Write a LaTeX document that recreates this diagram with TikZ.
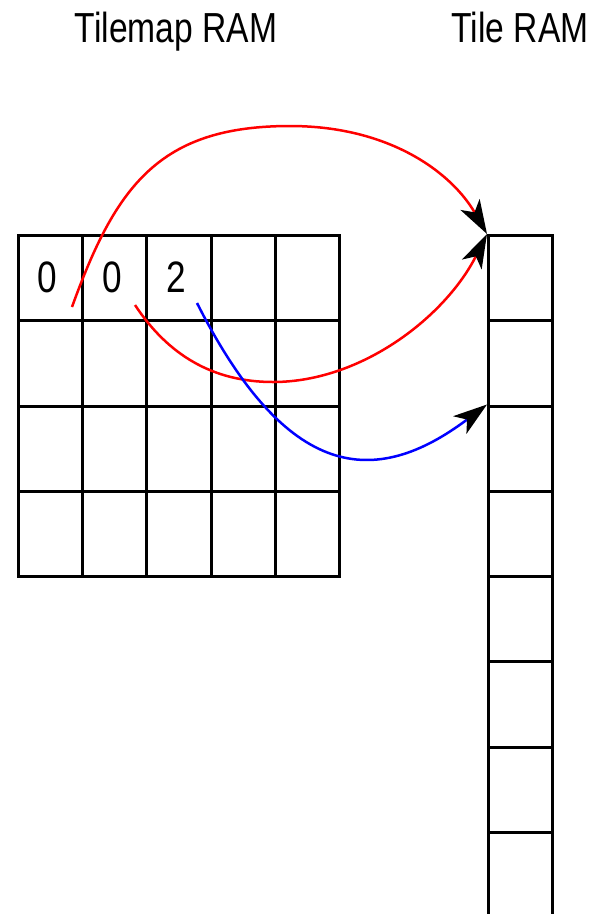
\documentclass[tikz,border=0pt]{standalone}
\usepackage{fontspec}
\newfontfamily\narrowsans[FakeStretch=0.8]{Liberation Sans}
\usetikzlibrary{arrows.meta}
\begin{document}
\begin{tikzpicture}[x=1pt,y=-1pt,
  cellbox/.style={draw=black,line width=3pt,minimum width=64.2pt,minimum height=85.25pt,inner sep=0pt,anchor=north west},
  title/.style={font=\narrowsans\fontsize{42}{46}\selectfont,anchor=base,inner sep=0pt},
  digit/.style={font=\narrowsans\fontsize{44}{48}\selectfont,anchor=base,inner sep=0pt},
  link/.style={line width=2.5pt,-{Stealth[length=34pt,width=22pt,inset=9pt,color=black]}},
]
\useasboundingbox (0,0) rectangle (596,914);
% titles
\node[title] (t1) at (176,42) {Tilemap RAM};
\node[title] (t2) at (520,42) {Tile RAM};
% tilemap grid
\foreach \r in {0,...,3}{
  \foreach \c in {0,...,4}{
    \node[cellbox] (m\r\c) at ({17+64.2*\c},{234+85.25*\r}) {};
  }
}
% tile RAM column
\foreach \r in {0,...,6}{
  \node[cellbox] (k\r) at (487,{234+85.25*\r}) {};
}
\node[cellbox,minimum height=95pt] (k7) at (487,{234+85.25*7}) {};
% digits
\node[digit] (d0) at (47,292) {0};
\node[digit] (d1) at (112,292) {0};
\node[digit] (d2) at (176,292) {2};
% start points
\coordinate (s0) at (72,307);
\coordinate (s1) at (135,305);
\coordinate (s2) at (197,303);
% connectors
\draw[link,red] (s0) .. controls (116,185) and (160,126) .. (290,126)
  .. controls (390,126) and (452,173) .. (k0.north west);
\draw[link,red] (s1) .. controls (168,355) and (213,382) .. (273,382)
  .. controls (363,382) and (446.5,315) .. (k0.north west);
\draw[link,blue] (s2) .. controls (287,481) and (375,489) .. (k2.north west);
\end{tikzpicture}
\end{document}
